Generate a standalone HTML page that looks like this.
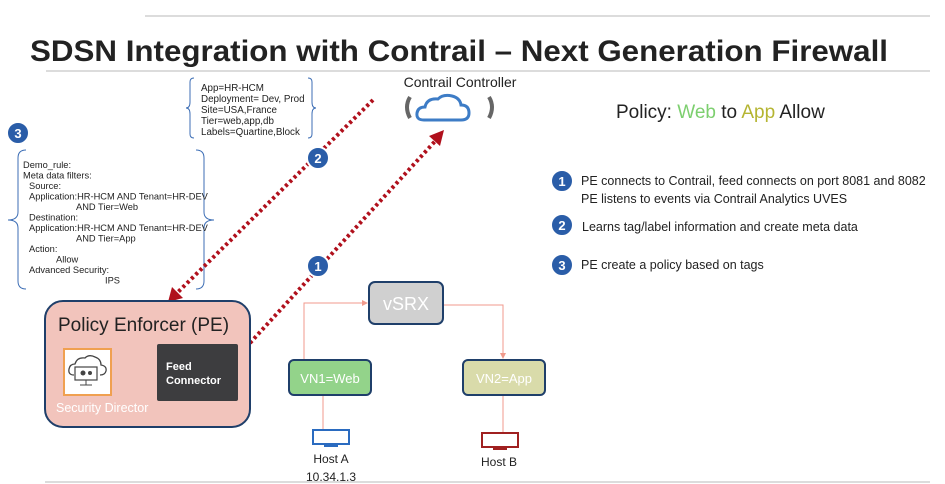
<!DOCTYPE html>
<html><head><meta charset="utf-8"><style>
html,body{margin:0;padding:0;background:#fff;}
svg{display:block;font-family:"Liberation Sans",Arial,sans-serif;}
</style></head><body>
<svg width="945" height="484" viewBox="0 0 945 484" xmlns="http://www.w3.org/2000/svg">
<defs>
<marker id="ra" markerWidth="6" markerHeight="6" refX="5" refY="3" orient="auto" markerUnits="userSpaceOnUse"><path d="M0,0 L6,3 L0,6z" fill="#f09a8c"/></marker>
</defs>
<line x1="145" y1="16" x2="930" y2="16" stroke="#c8c8c8" stroke-width="1.2"/>
<text x="30" y="61" font-size="30" font-weight="bold" fill="#222" textLength="858" lengthAdjust="spacingAndGlyphs">SDSN Integration with Contrail – Next Generation Firewall</text>
<line x1="46" y1="71" x2="930" y2="71" stroke="#c8c8c8" stroke-width="1.2"/>
<line x1="45" y1="482" x2="930" y2="482" stroke="#c8c8c8" stroke-width="1.2"/>

<!-- brace box 1 -->
<path d="M194,78 q-4,0 -4,4 v20 q0,6 -4,6 q4,0 4,6 v20 q0,4 4,4" fill="none" stroke="#3d6eb5" stroke-width="1"/>
<path d="M308,78 q4,0 4,4 v20 q0,6 4,6 q-4,0 -4,6 v20 q0,4 -4,4" fill="none" stroke="#3d6eb5" stroke-width="1"/>
<g font-size="9.8" fill="#222">
<text x="201" y="91">App=HR-HCM</text>
<text x="201" y="102">Deployment= Dev, Prod</text>
<text x="201" y="113">Site=USA,France</text>
<text x="201" y="124">Tier=web,app,db</text>
<text x="201" y="135">Labels=Quartine,Block</text>
</g>

<!-- brace box 2 -->
<path d="M26,150 q-8,0 -8,8 v54 q0,8 -10,8 q10,0 10,8 v53 q0,8 8,8" fill="none" stroke="#3d6eb5" stroke-width="1"/>
<path d="M196,150 q8,0 8,8 v54 q0,8 10,8 q-10,0 -10,8 v53 q0,8 -8,8" fill="none" stroke="#3d6eb5" stroke-width="1"/>
<g font-size="9.3" fill="#222">
<text x="23" y="168">Demo_rule:</text>
<text x="23" y="178.5">Meta data filters:</text>
<text x="29" y="189">Source:</text>
<text x="29" y="199.5">Application:HR-HCM AND Tenant=HR-DEV</text>
<text x="76" y="210">AND Tier=Web</text>
<text x="29" y="220.5">Destination:</text>
<text x="29" y="231">Application:HR-HCM AND Tenant=HR-DEV</text>
<text x="76" y="241.5">AND Tier=App</text>
<text x="29" y="252">Action:</text>
<text x="56" y="262.5">Allow</text>
<text x="29" y="273">Advanced Security:</text>
<text x="105" y="283.5">IPS</text>
</g>

<!-- dotted red lines -->
<line x1="373" y1="100" x2="176" y2="294" stroke="#b0101c" stroke-width="4" stroke-dasharray="3 3"/>
<path d="M168,302 L172,287 L183,298z" fill="#b0101c"/>
<line x1="250" y1="343" x2="438" y2="138" stroke="#b0101c" stroke-width="4" stroke-dasharray="3 3"/>
<path d="M444,130 L440,146 L429,136z" fill="#b0101c"/>

<!-- numbered circles -->
<g font-weight="bold" font-size="13" fill="#fff" text-anchor="middle">
<circle cx="18" cy="133" r="11" fill="#2a5da8" stroke="#fff" stroke-width="2"/><text x="18" y="138">3</text>
<circle cx="318" cy="158" r="11" fill="#2a5da8" stroke="#fff" stroke-width="2"/><text x="318" y="163">2</text>
<circle cx="318" cy="266" r="11" fill="#2a5da8" stroke="#fff" stroke-width="2"/><text x="318" y="271">1</text>
<circle cx="562" cy="181" r="11" fill="#2a5da8" stroke="#fff" stroke-width="2"/><text x="562" y="186">1</text>
<circle cx="562" cy="225" r="11" fill="#2a5da8" stroke="#fff" stroke-width="2"/><text x="562" y="230">2</text>
<circle cx="562" cy="265" r="11" fill="#2a5da8" stroke="#fff" stroke-width="2"/><text x="562" y="270">3</text>
</g>

<!-- Contrail controller -->
<text x="460" y="87" font-size="14" fill="#222" text-anchor="middle">Contrail Controller</text>
<path d="M410,97 q-6,10 0,21" fill="none" stroke="#666" stroke-width="4"/>
<path d="M489,97 q6,10 0,21" fill="none" stroke="#666" stroke-width="4"/>
<path d="M424,120 q-8,0 -7,-7 q1,-6 8,-6 q2,-9 13,-8 q5,-5 14,-3 q8,2 9,9 q8,0 8,8 q0,7 -8,7 z" fill="none" stroke="#3d7cc6" stroke-width="3"/>

<text x="616" y="118" font-size="19" fill="#222">Policy: <tspan fill="#7dcf6f">Web</tspan> to <tspan fill="#b5b532">App</tspan> Allow</text>

<g font-size="12.5" fill="#222">
<text x="581" y="185">PE connects to Contrail, feed connects on port 8081 and 8082</text>
<text x="581" y="203">PE listens to events via Contrail Analytics UVES</text>
<text x="582" y="231">Learns tag/label information and create meta data</text>
<text x="581" y="269">PE create a policy based on tags</text>
</g>

<!-- PE box -->
<rect x="45" y="301" width="205" height="126" rx="18" fill="#f2c4bc" stroke="#1f3f6a" stroke-width="2"/>
<text x="58" y="331" font-size="19" fill="#222">Policy Enforcer (PE)</text>
<rect x="64" y="349" width="47" height="46" fill="#fff" stroke="#f0a050" stroke-width="2"/>
<path d="M74,375 q-6,0 -5,-6 q1,-5 6,-5 q2,-7 10,-6 q4,-4 10,-1 q6,2 6,8 q6,1 5,6 q-1,4 -6,4" fill="none" stroke="#444" stroke-width="1.3"/>
<rect x="75" y="367" width="22" height="13" fill="#fff" stroke="#444" stroke-width="1.2"/>
<circle cx="83" cy="373" r="2.5" fill="#444"/><circle cx="90" cy="373" r="2" fill="#444"/>
<line x1="86" y1="380" x2="86" y2="385" stroke="#444"/><line x1="80" y1="385" x2="92" y2="385" stroke="#444"/>
<text x="56" y="412" font-size="12.5" fill="#fff">Security Director</text>
<rect x="157" y="344" width="81" height="57" rx="2" fill="#3d3d3f"/>
<text x="166" y="370" font-size="11" font-weight="bold" fill="#fff">Feed</text>
<text x="166" y="384" font-size="11" font-weight="bold" fill="#fff">Connector</text>

<!-- network -->
<polyline points="304,360 304,303 367,303" fill="none" stroke="#f09a8c" stroke-width="1" marker-end="url(#ra)"/>
<polyline points="444,305 503,305 503,358" fill="none" stroke="#f09a8c" stroke-width="1" marker-end="url(#ra)"/>
<line x1="323" y1="396" x2="323" y2="429" stroke="#f09a8c"/>
<line x1="503" y1="396" x2="503" y2="433" stroke="#f09a8c"/>
<rect x="369" y="282" width="74" height="42" rx="6" fill="#d0d0d0" stroke="#1f3f6a" stroke-width="2"/>
<text x="406" y="310" font-size="18" fill="#fff" text-anchor="middle">vSRX</text>
<rect x="289" y="360" width="82" height="35" rx="5" fill="#93d38a" stroke="#1f3f6a" stroke-width="2"/>
<text x="330" y="383" font-size="13" fill="#fff" text-anchor="middle">VN1=Web</text>
<rect x="463" y="360" width="82" height="35" rx="5" fill="#d9dbaa" stroke="#1f3f6a" stroke-width="2"/>
<text x="504" y="383" font-size="13" fill="#fff" text-anchor="middle">VN2=App</text>

<rect x="313" y="430" width="36" height="14" fill="#fff" stroke="#2a6bc0" stroke-width="2"/>
<rect x="324" y="444" width="14" height="3" fill="#2a6bc0"/>
<text x="331" y="463" font-size="12" fill="#222" text-anchor="middle">Host A</text>
<text x="331" y="481" font-size="12" fill="#222" text-anchor="middle">10.34.1.3</text>
<rect x="482" y="433" width="36" height="14" fill="#fff" stroke="#a02020" stroke-width="2"/>
<rect x="493" y="447" width="14" height="3" fill="#a02020"/>
<text x="499" y="466" font-size="12" fill="#222" text-anchor="middle">Host B</text>
</svg>
</body></html>
